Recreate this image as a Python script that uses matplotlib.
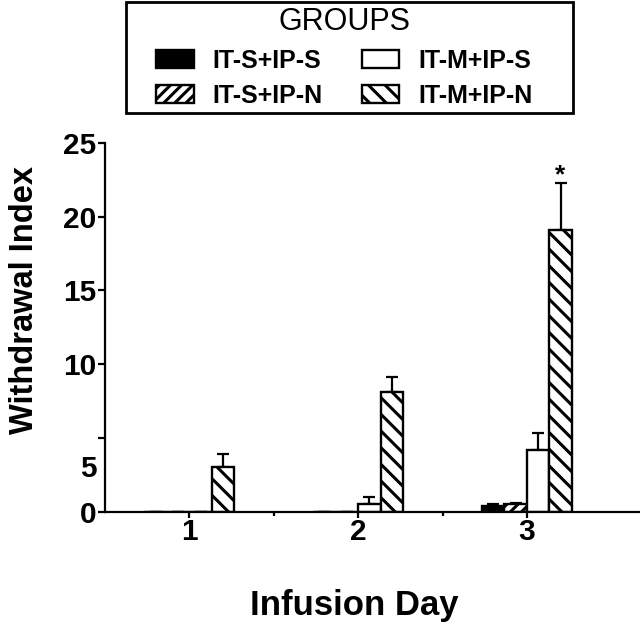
import matplotlib.pyplot as plt
from matplotlib.patches import Rectangle
import numpy as np

# data
days = [1, 2, 3]
groups = ['IT-S+IP-S', 'IT-S+IP-N', 'IT-M+IP-S', 'IT-M+IP-N']
means = {
    'IT-S+IP-S': [0.0, 0.0, 0.4],
    'IT-S+IP-N': [0.0, 0.0, 0.5],
    'IT-M+IP-S': [0.0, 0.5, 4.15],
    'IT-M+IP-N': [3.0, 8.1, 19.1],
}
sems = {
    'IT-S+IP-S': [0.0, 0.0, 0.1],
    'IT-S+IP-N': [0.0, 0.0, 0.1],
    'IT-M+IP-S': [0.0, 0.5, 1.15],
    'IT-M+IP-N': [0.9, 1.05, 3.2],
}
colors = ['black', 'white', 'white', 'white']
hatches = ['', '///', '', '\\\\']

plt.rcParams['font.family'] = ['Liberation Sans', 'DejaVu Sans']
plt.rcParams['hatch.linewidth'] = 2.2

fig = plt.figure(figsize=(6.4, 6.24), dpi=100)
ax = fig.add_axes([0.164, 0.180, 0.836, 0.591])

width = 0.133
x = np.array(days, dtype=float)
for i, g in enumerate(groups):
    pos = x + (i - 1.5) * width
    ax.bar(pos, means[g], width, color=colors[i], edgecolor='black',
           hatch=hatches[i], linewidth=1.7, label=g, zorder=2)
    ax.errorbar(pos, means[g], yerr=[np.zeros(3), sems[g]], fmt='none',
                ecolor='black', elinewidth=1.6, capsize=4, capthick=1.6, zorder=1)

# significance mark above day 3, IT-M+IP-N
ax.text(3 + 1.5 * width, 22.0, '*', ha='center', va='bottom',
        fontsize=19, fontweight='bold')

ax.set_xlim(0.5, 3.67)
ax.set_ylim(0, 25)
ax.set_xticks(days)
ax.set_xticks([1.5, 2.5], minor=True)
ax.set_xticklabels([str(d) for d in days], fontsize=21.5, fontweight='bold')
ax.set_yticks([0, 5, 10, 15, 20, 25])
ax.set_yticklabels(['0', '', '10', '15', '20', '25'], fontsize=21.5, fontweight='bold')
ax.text(-0.015, 2.9, '5', transform=ax.get_yaxis_transform(), ha='right',
        va='center', fontsize=21.5, fontweight='bold')

ax.tick_params(axis='both', which='major', width=1.6, direction='out')
ax.tick_params(axis='y', which='major', length=5, pad=1)
ax.tick_params(axis='x', which='major', length=4, pad=0.5)
ax.tick_params(axis='x', which='minor', width=1.6, length=3)
for s in ['top', 'right']:
    ax.spines[s].set_visible(False)
for s in ['left', 'bottom']:
    ax.spines[s].set_linewidth(1.6)

ax.set_ylabel('Withdrawal Index', fontsize=23.5, fontweight='bold')
ax.yaxis.set_label_coords(-0.121, 0.573)
ax.set_xlabel('Infusion Day', fontsize=25, fontweight='bold')
ax.xaxis.set_label_coords(0.466, -0.21)

# legend without its own frame; a wider box is drawn around it
leg = fig.legend(loc='upper center', bbox_to_anchor=(0.538, 1.0), ncol=2,
                 title='GROUPS', frameon=False,
                 prop={'size': 18, 'weight': 'bold'}, title_fontsize=22,
                 handlelength=1.5, handleheight=0.75, columnspacing=1.56,
                 borderpad=0.2, labelspacing=0.45, handletextpad=0.76,
                 borderaxespad=0.1)
fig.patches.append(Rectangle((0.197, 0.819), 0.698, 0.178, transform=fig.transFigure,
                             fill=False, edgecolor='black', linewidth=2))

fig.savefig('out.png', dpi=100)
